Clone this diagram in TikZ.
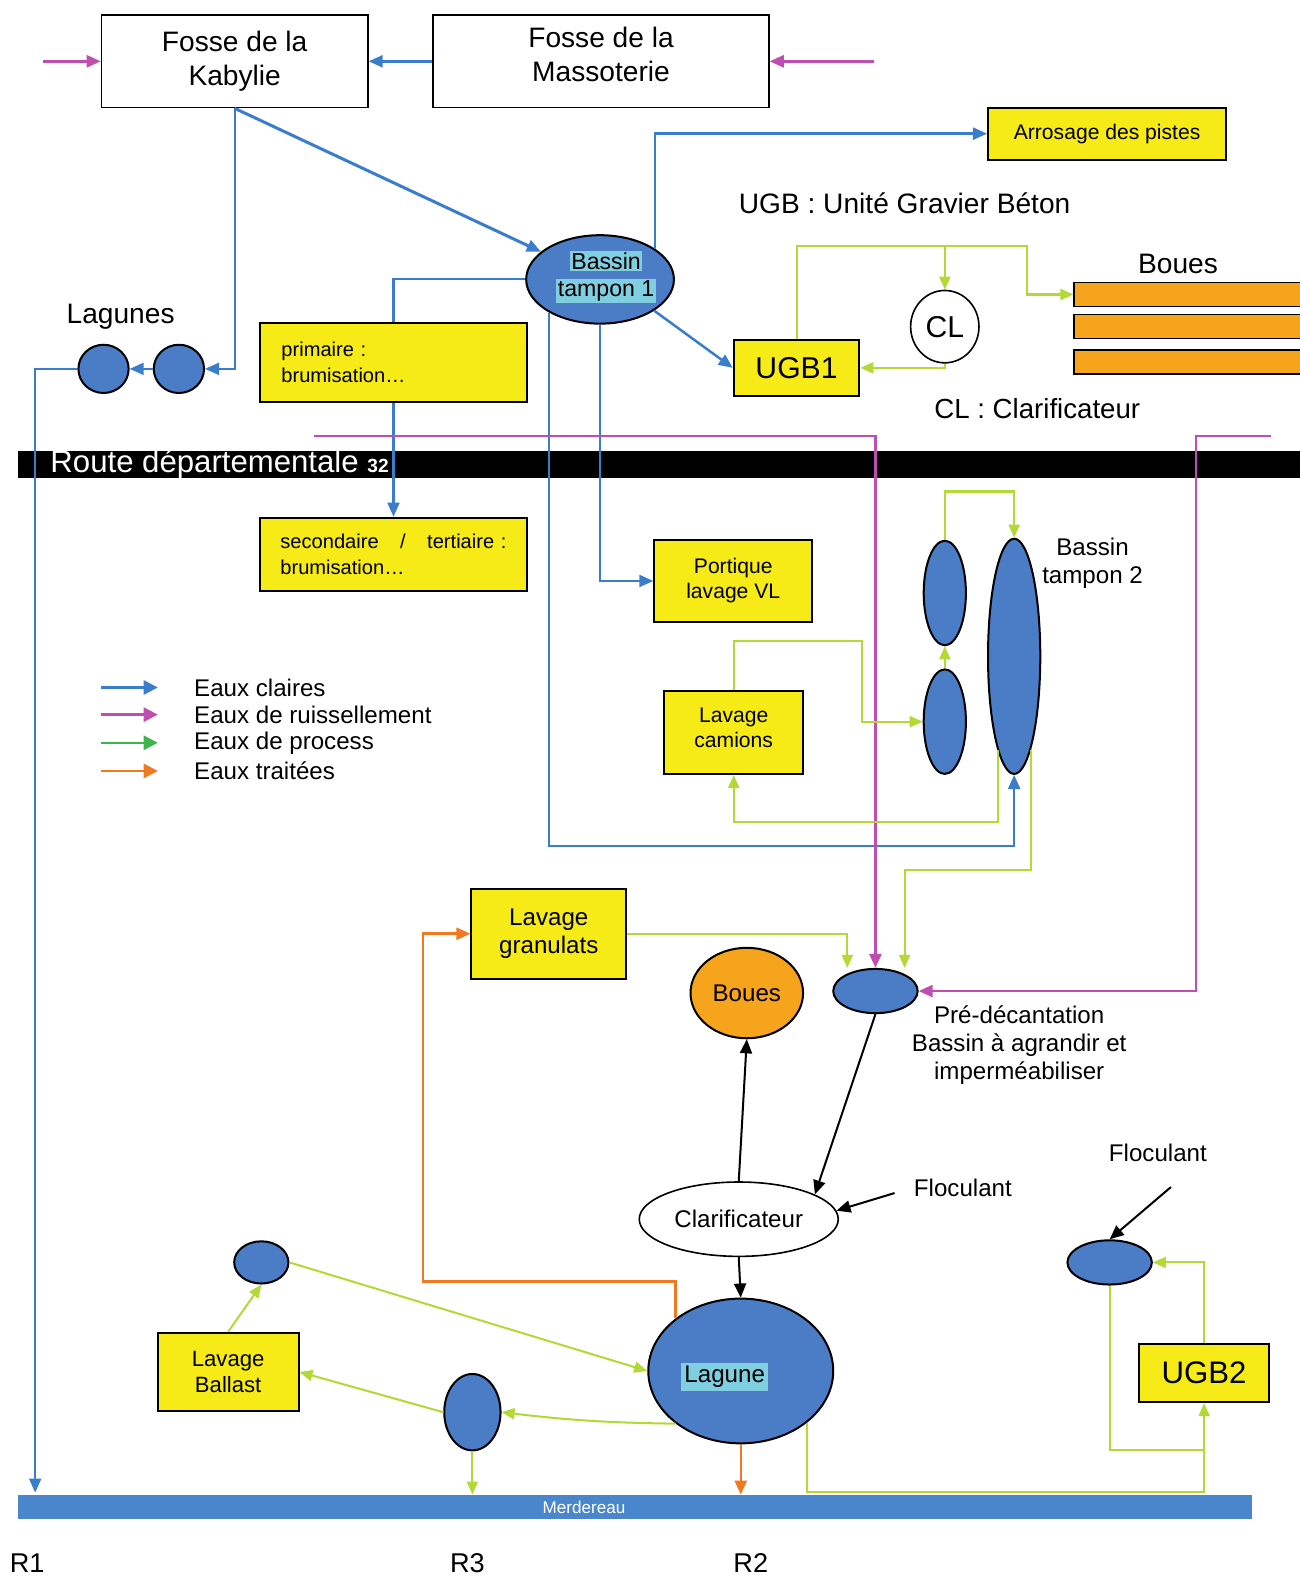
\documentclass[tikz,border=0pt]{standalone}
\usepackage{fontspec}
\setmainfont{Liberation Sans}
\usetikzlibrary{arrows.meta,shapes.geometric,calc}
\definecolor{lblue}{HTML}{3A7DCD}
\definecolor{efill}{HTML}{4A7DC6}
\definecolor{river}{HTML}{4A86CC}
\definecolor{yel}{HTML}{F6EB16}
\definecolor{lgreen}{HTML}{B3D935}
\definecolor{leggreen}{HTML}{3DB54A}
\definecolor{mag}{HTML}{C04DB0}
\definecolor{orline}{HTML}{F07A20}
\definecolor{bouesfill}{HTML}{F5A41C}
\definecolor{hl}{HTML}{7FCFE0}
\newcommand\fsz[2]{\fontsize{#1}{#2}\selectfont}
\begin{document}
\begin{tikzpicture}[x=1pt,y=-1pt,
 arrtip/.style={-{Triangle[length=14pt,width=12pt]}},
 box/.style={draw=black,line width=2pt,fill=yel,inner sep=0pt,align=center},
 wbox/.style={draw=black,line width=1.6pt,fill=white,inner sep=0pt,align=center},
 bell/.style={ellipse,draw=black,line width=2pt,fill=efill,inner sep=0pt},
 bl/.style={draw=lblue,line width=2.5pt,arrtip},
 bln/.style={draw=lblue,line width=2.5pt},
 mg/.style={draw=mag,line width=2.5pt,arrtip},
 gr/.style={draw=lgreen,line width=2pt,-{Triangle[length=13pt,width=11pt]}},
 grn/.style={draw=lgreen,line width=2pt},
 orarrow/.style={draw=orline,line width=2.5pt,arrtip},
 bk/.style={draw=black,line width=2pt,arrtip},
 lbl/.style={inner sep=0pt,align=center},
 bar/.style={draw=black,line width=1.5pt,fill=bouesfill,minimum width=226pt,minimum height=24pt,inner sep=0pt,anchor=west},
]
\useasboundingbox (0,0) rectangle (1293,1568);

% ---------- top boxes
\node[wbox,minimum width=265pt,minimum height=92pt] (kab) at (233.5,61) {};
\node[lbl,font=\fsz{28}{34}] (kabtxt) at (233.5,61) {Fosse de la\\Kabylie};
\node[wbox,minimum width=334pt,minimum height=92pt] (mass) at (598,61) {};
\node[lbl,font=\fsz{28}{34}] (masstxt) at (598,54) {Fosse de la\\Massoterie};
\node[box,minimum width=237pt,minimum height=52pt,font=\fsz{21}{25}] (arr) at (1101.5,133) {Arrosage des pistes};
\node[box,minimum width=125pt,minimum height=56pt,font=\fsz{30}{36}] (ugb1) at (792.5,366) {UGB1};
\node[box,minimum width=265pt,minimum height=79pt,text width=223pt,align=left,font=\fsz{20}{25}] (prim) at (391.5,360.5) {primaire :\\brumisation…};
\node[box,minimum width=265pt,minimum height=73pt,text width=225pt,align=left,font=\fsz{20}{25}] (sec) at (391.5,551.5) {secondaire\hfill/\hfill tertiaire :\\brumisation…};
\node[box,minimum width=157pt,minimum height=82pt,font=\fsz{21}{25}] (port) at (729.5,578) {Portique\\lavage VL};
\node[box,minimum width=138pt,minimum height=83pt] (cam) at (730,728.5) {};
\node[lbl,font=\fsz{21}{25}] (camtxt) at (730,724) {Lavage\\camions};
\node[box,minimum width=154pt,minimum height=90pt,font=\fsz{24}{28}] (gran) at (546,929) {Lavage\\granulats};
\node[box,minimum width=140pt,minimum height=78pt,font=\fsz{22}{25}] (ball) at (227,1365) {Lavage\\Ballast};
\node[box,minimum width=130pt,minimum height=58pt,font=\fsz{31}{36}] (ugb2) at (1198,1366) {UGB2};

% ---------- road and river
\node[fill=black,minimum width=1275pt,minimum height=26pt,inner sep=0pt,anchor=north west] (road) at (18,449) {};
\node[anchor=west,text=white,inner sep=0pt] (roadtxt) at (50,462) {\fsz{31}{31}Route départementale {\bfseries\fsz{19}{19}32}};
\node[fill=river,minimum width=1227pt,minimum height=24pt,inner sep=0pt,anchor=north west] (riv) at (18,1487) {};
\node[text=white,inner sep=0pt] (rivtxt) at (581,1500) {\fsz{17}{17}Merdereau};

% ---------- ellipses
\setlength{\fboxsep}{1.5pt}
\node[bell,minimum width=147pt,minimum height=88pt] (bt1) at (597,278) {};
\node[inner sep=0pt,font=\fsz{23}{28}] (bt1txt) at (603,276) {\begin{tabular}{@{}c@{}}\colorbox{hl}{Bassin}\\[-1pt]\colorbox{hl}{tampon 1}\end{tabular}};
\node[bell,minimum width=50pt,minimum height=48pt] (lag1) at (103,367) {};
\node[bell,minimum width=50pt,minimum height=48pt] (lag2) at (178,367) {};
\node[ellipse,draw=black,line width=1.6pt,fill=white,inner sep=0pt,minimum width=68pt,minimum height=72pt,font=\fsz{30}{30}] (cl) at (940,325) {CL};
\node[bar] (bar1) at (1068,293) {};
\node[bar] (bar2) at (1068,325) {};
\node[bar] (bar3) at (1068,360) {};
\node[bell,minimum width=42pt,minimum height=104pt] (bt2a) at (940,590) {};
\node[bell,minimum width=42pt,minimum height=104pt] (bt2b) at (940,718) {};
\node[bell,minimum width=52pt,minimum height=234pt] (bt2) at (1009,653) {};
\node[bell,fill=bouesfill,minimum width=112pt,minimum height=90pt,font=\fsz{24}{28}] (boues) at (743,988) {Boues};
\node[bell,minimum width=84pt,minimum height=44pt] (pre) at (871,986) {};
\node[ellipse,draw=black,line width=1.6pt,fill=white,inner sep=0pt,minimum width=198pt,minimum height=74pt,font=\fsz{24}{28}] (clar) at (735,1213) {Clarificateur};
\setlength{\fboxsep}{3pt}
\node[bell,minimum width=184pt,minimum height=144pt] (lag) at (737,1364) {};
\node[inner sep=0pt,font=\fsz{24}{28}] (lagtxt) at (721,1370) {\colorbox{hl}{Lagune}};
\node[bell,minimum width=84pt,minimum height=44pt] (floc2) at (1104,1256) {};
\node[bell,minimum width=54pt,minimum height=42pt] (smallL) at (260,1256) {};
\node[bell,minimum width=56pt,minimum height=76pt] (r3) at (470,1405) {};

% ---------- labels
\node[lbl,font=\fsz{28}{32}] (tlag) at (120,315) {Lagunes};
\node[lbl,font=\fsz{28}{32}] (tugb) at (900,202) {UGB : Unité Gravier Béton};
\node[lbl,font=\fsz{28}{32}] (tboues) at (1172,263) {Boues};
\node[lbl,font=\fsz{27.5}{32}] (tcl) at (1032,407) {CL : Clarificateur};
\node[lbl,font=\fsz{24}{28}] (tbt2) at (1087,560) {Bassin\\tampon 2};
\node[lbl,font=\fsz{24}{28}] (tpre) at (1014,1040) {Pré-décantation\\Bassin à agrandir et\\imperméabiliser};
\node[lbl,font=\fsz{24}{28}] (tfl1) at (958,1182) {Floculant};
\node[lbl,font=\fsz{24}{28}] (tfl2) at (1152,1147) {Floculant};
\node[lbl,font=\fsz{27}{30}] (tr1) at (27,1555) {R1};
\node[lbl,font=\fsz{27}{30}] (tr3) at (465,1555) {R3};
\node[lbl,font=\fsz{27}{30}] (tr2) at (747,1555) {R2};

% ---------- legend
\foreach \y/\c/\t [count=\i] in {684/lblue/Eaux claires,711/mag/Eaux de ruissellement,739/leggreen/Eaux de process,767/orline/Eaux traitées}{
  \coordinate (la\i) at (100,\y);
  \coordinate (lb\i) at (157,\y);
  \draw[draw=\c,line width=2.5pt,-{Triangle[length=14pt,width=14pt]}] (la\i) -- (lb\i);
  \node[anchor=west,inner sep=0pt,font=\fsz{24}{28}] (lt\i) at (193,\y) {\t};
}

% ---------- coordinates
\coordinate (m1) at (43,61);
\coordinate (m2) at (870,61);
\coordinate (m3) at (312,434);
\coordinate (m4) at (1265,434);
\coordinate (m4b) at (1190,986);
\coordinate (r1) at (35,1485);
\coordinate (c842) at (1009,842);
\coordinate (g1) at (1022,245);
\coordinate (g4) at (858,638);
\coordinate (g5) at (730,818);
\coordinate (g6) at (900,866);
\coordinate (o1) at (421,1275);
\coordinate (g8) at (1198,1484);
\coordinate (g9) at (1198,1443);
\coordinate (f1) at (890,1187);
\coordinate (f2) at (1165,1181);

% ---------- blue
\draw[mg] (m1) -- (kab.west);
\draw[mg] (m2) -- (mass.east);
\draw[bl] (mass.west) -- (kab.east);
\draw[bl,line width=3pt] (kab.south) -- (bt1);
\draw[bl,line width=2pt] (kab.south) |- (lag2.east);
\draw[bl,line width=2pt] (lag2.west) -- (lag1.east);
\draw[bl,line width=2pt] (lag1.west) -| (r1);
\draw[bl] (bt1.29) |- (arr.west);
\draw[bl] (bt1.-30) -- (ugb1.west);
\draw[bln,line width=2pt] (bt1.west) -| (prim.north);
\draw[bl,line width=2pt] (prim.south) -- (sec.north);
\draw[bl,line width=2pt] (bt1.-147) |- (c842) -- (bt2.south);
\draw[bl,line width=2pt] (bt1.south) |- (port.west);

% ---------- magenta
\draw[mg] (m3) -| (pre.north);
\draw[mg] (m4) -| (m4b) -- (pre.east);

% ---------- green
\draw[gr] (ugb1.north) |- (g1) |- (bar1.west);
\draw[gr] (cl.north |- g1) -- (cl.north);
\draw[gr] (cl.south) |- (ugb1.east);
\draw[gr] (bt2a.north) -- ++(0,-48) -| (bt2.north);
\draw[gr] (bt2b.north) -- (bt2a.south);
\draw[gr] (cam.north) |- (g4) |- (bt2b.west);
\draw[gr] (bt2.-100) |- (g5) -- (cam.south);
\draw[gr] (bt2.-80) |- (g6) -- ([xshift=29pt]pre.north);
\draw[gr] (gran.east) -| ([xshift=-28pt]pre.north);
\draw[gr] (lag.-38) |- (g8) -- (ugb2.south);
\draw[gr] (ugb2.north) |- (floc2.east);
\draw[grn] (floc2.south) |- (g9);
\draw[gr] (smallL.east) -- (lag.west);
\draw[gr] (ball.north) -- (smallL.south);
\draw[gr] (lag.-141) to[bend left=3] (r3.east);
\draw[gr] (r3.west) -- (ball.east);
\draw[gr] (r3.south) -- (r3.south |- riv.north);

% ---------- orange
\draw[orarrow] (lag.141) |- (o1) |- (gran.west);
\draw[orarrow] (lag.south) -- (lag.south |- riv.north);

% ---------- black
\draw[bk] (pre.south) -- (clar.18);
\draw[bk] (clar.north) -- (boues.south);
\draw[bk] (f1) -- (clar.5);
\draw[bk] (clar.south) -- (lag.north);
\draw[bk] (f2) -- (floc2.north);
\end{tikzpicture}
\end{document}
